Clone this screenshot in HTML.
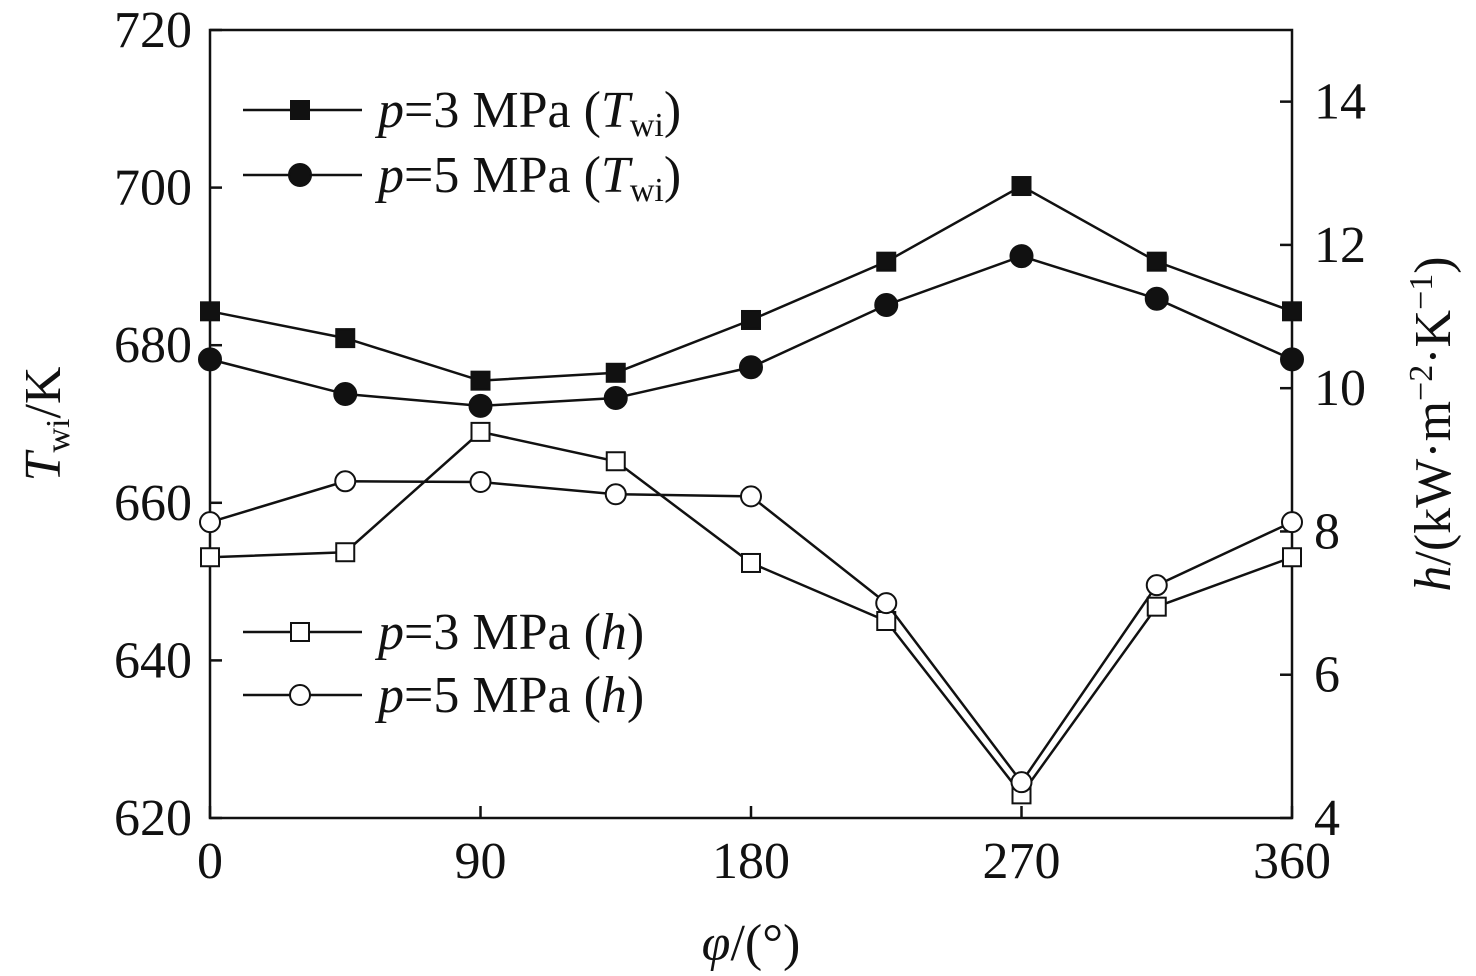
<!DOCTYPE html>
<html><head><meta charset="utf-8"><style>body{margin:0;background:#fff}svg{display:block}text{font-family:"Liberation Serif",serif;fill:#111}</style></head>
<body>
<svg id="chart" width="1476" height="976" xmlns="http://www.w3.org/2000/svg"></svg>
<script>
const angles=[0,45,90,135,180,225,270,315,360];
const t3=[684.3,680.9,675.5,676.5,683.2,690.6,700.2,690.6,684.3];
const t5=[678.2,673.8,672.3,673.3,677.2,685.1,691.3,685.9,678.2];
const h3=[7.64,7.71,9.39,8.98,7.56,6.75,4.33,6.95,7.64];
const h5=[8.13,8.70,8.69,8.52,8.49,7.0,4.5,7.25,8.13];
const xTicks=[0,90,180,270,360];
const yLTicks=[620,640,660,680,700,720];
const yRTicks=[4,6,8,10,12,14];
const L=210,R=1292,T=30,B=818;
const FS=52,SUB=34;
const sx=v=>L+(v/360)*(R-L);
const syL=v=>B-(v-620)/100*(B-T);
const syR=v=>B-(v-4)/11*(B-T);
const svg=document.getElementById('chart');
const NS='http://www.w3.org/2000/svg';
function mk(tag,attrs,parent){const e=document.createElementNS(NS,tag);for(const k in attrs)e.setAttribute(k,attrs[k]);(parent||svg).appendChild(e);return e;}
const frame=mk('rect',{x:L,y:T,width:R-L,height:B-T,fill:'none',stroke:'#111','stroke-width':2.5});


xTicks.forEach(v=>{const x=sx(v);
 const l=mk('line',{x1:x,y1:B,x2:x,y2:B-12,stroke:'#111','stroke-width':2.5});
 
 
 const t=mk('text',{x:x,y:B+60,'font-size':FS,'text-anchor':'middle'});t.textContent=v;
 
 });
yLTicks.forEach(v=>{const y=syL(v);
 const l=mk('line',{x1:L,y1:y,x2:L+12,y2:y,stroke:'#111','stroke-width':2.5});
 
 
 const t=mk('text',{x:L-18,y:y+17,'font-size':FS,'text-anchor':'end'});t.textContent=v;
 
 });
yRTicks.forEach(v=>{const y=syR(v);
 const l=mk('line',{x1:R,y1:y,x2:R-12,y2:y,stroke:'#111','stroke-width':2.5});
 
 
 const t=mk('text',{x:R+22,y:y+17,'font-size':FS,'text-anchor':'start'});t.textContent=v;
 
 });
function marker(x,y,type,g){
 if(type==='sq')return mk('rect',{x:x-9,y:y-9,width:18,height:18,fill:'#111',stroke:'#111','stroke-width':2},g);
 if(type==='ci')return mk('circle',{cx:x,cy:y,r:11,fill:'#111',stroke:'#111','stroke-width':2},g);
 if(type==='osq')return mk('rect',{x:x-9,y:y-9,width:18,height:18,fill:'#fff',stroke:'#111','stroke-width':2},g);
 return mk('circle',{cx:x,cy:y,r:10,fill:'#fff',stroke:'#111','stroke-width':2},g);
}
function series(vals,sy,type,name){
 const g=mk('g',{});
 
 
 mk('polyline',{points:vals.map((v,i)=>sx(angles[i])+','+sy(v)).join(' '),fill:'none',stroke:'#111','stroke-width':2.5},g);
 vals.forEach((v,i)=>{const m=marker(sx(angles[i]),sy(v),type,g);
  
  });
}
series(t3,syL,'sq','series-t-3mpa');
series(t5,syL,'ci','series-t-5mpa');
series(h3,syR,'osq','series-h-3mpa');
series(h5,syR,'oc','series-h-5mpa');
const legends=[[110,'sq','T'],[175,'ci','T'],[632,'osq','h'],[695,'oc','h']];
const press=['3','5','3','5'];
legends.forEach((e,i)=>{const g=mk('g',{});
 
 
 mk('line',{x1:243,y1:e[0],x2:362,y2:e[0],stroke:'#111','stroke-width':2.5},g);
 marker(300,e[0],e[1],g);
 const t=mk('text',{x:378,y:e[0]+17,'font-size':FS},g);
 t.innerHTML=e[2]==='T'?'<tspan font-style="italic">p</tspan>='+press[i]+' MPa (<tspan font-style="italic">T</tspan><tspan font-size="'+SUB+'" dy="9">wi</tspan><tspan dy="-9">)</tspan>':'<tspan font-style="italic">p</tspan>='+press[i]+' MPa (<tspan font-style="italic">h</tspan>)';});
const xt=mk('text',{x:751,y:960,'font-size':FS,'text-anchor':'middle'});
xt.innerHTML='<tspan font-style="italic">φ</tspan>/(°)';


const yl=mk('text',{x:0,y:0,'font-size':FS,'text-anchor':'middle',transform:'translate(60,424) rotate(-90)'});
yl.innerHTML='<tspan font-style="italic">T</tspan><tspan font-size="'+SUB+'" dy="9">wi</tspan><tspan dy="-9">/K</tspan>';


const yr=mk('text',{x:0,y:0,'font-size':FS,'text-anchor':'middle',transform:'translate(1450,424) rotate(-90)'});
yr.innerHTML='<tspan font-style="italic">h</tspan>/(kW·m<tspan font-size="'+SUB+'" dy="-18">−2</tspan><tspan dy="18">·K</tspan><tspan font-size="'+SUB+'" dy="-18">−1</tspan><tspan dy="18">)</tspan>';


</script>
</body></html>
